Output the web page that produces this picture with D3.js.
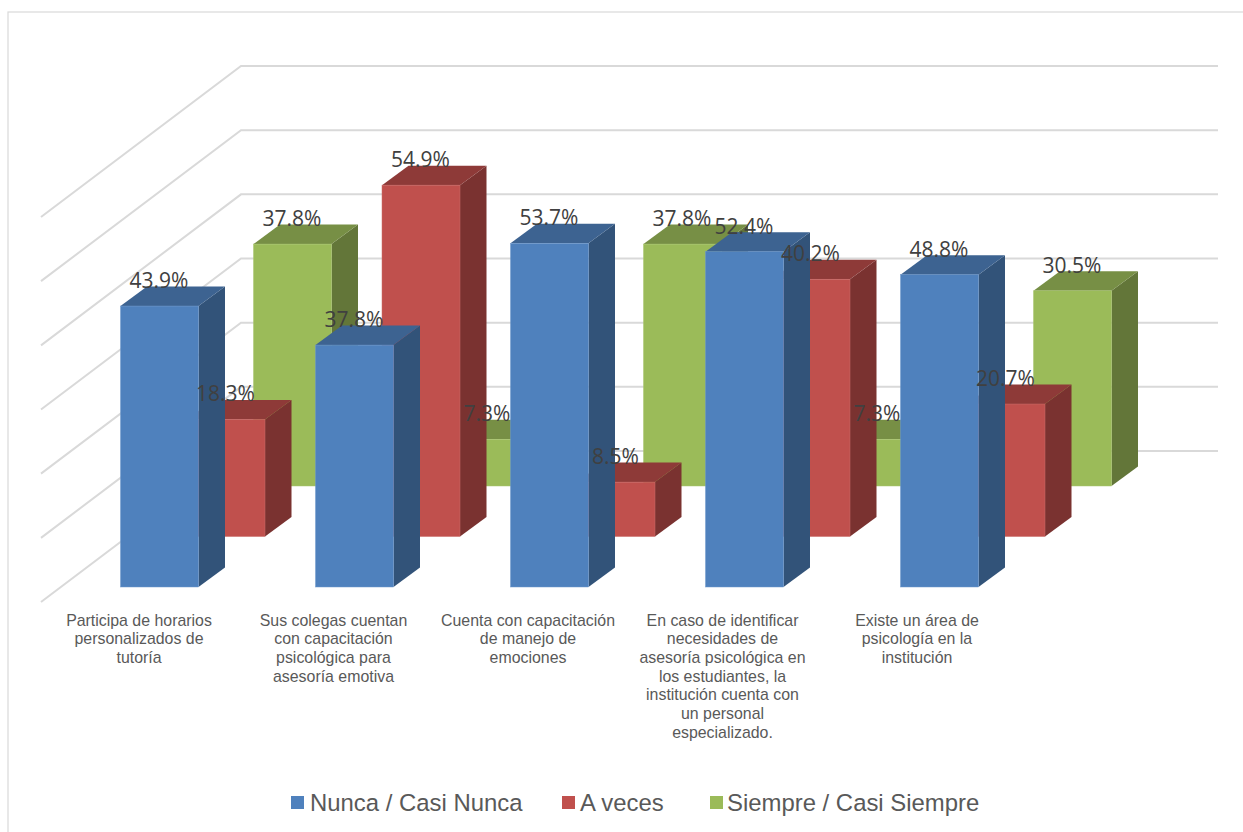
<!DOCTYPE html>
<html><head><meta charset="utf-8">
<script src="https://cdn.jsdelivr.net/npm/d3@7"></script>
<style>html,body{margin:0;padding:0;background:#fff;overflow:hidden}svg{display:block}</style>
</head><body><svg id="c" width="1243" height="832"></svg>
<script>
const categories = ["c1","c2","c3","c4","c5"];
const categoryLines = [
  ["Participa de horarios","personalizados de","tutoría"],
  ["Sus colegas cuentan","con capacitación","psicológica para","asesoría emotiva"],
  ["Cuenta con capacitación","de manejo de","emociones"],
  ["En caso de identificar","necesidades de","asesoría psicológica en","los estudiantes, la","institución cuenta con","un personal","especializado."],
  ["Existe un área de","psicología en la","institución"]
];
const seriesNames = ["Nunca / Casi Nunca","A veces","Siempre / Casi Siempre"];
const nunca = [43.9,37.8,53.7,52.4,48.8];
const aVeces = [18.3,54.9,8.5,40.2,20.7];
const siempre = [37.8,7.3,37.8,7.3,30.5];
const gridValues = [0,10,20,30,40,50,60];
const front = ["#4f81bd","#c0504d","#9bbb59"];
const topFace = ["#3d6391","#8e3a38","#778f45"];
const sideFace = ["#325379","#7a3230","#637639"];
const edge = ["#6f98cc","#c96c69","#aac670"];

const svg = d3.select("#c");
svg.append("rect").attr("x",8).attr("y",12).attr("width",1300).attr("height",900)
  .attr("fill","#fff").attr("stroke","#d9d9d9").attr("stroke-width",1.2);

const h = d3.scaleLinear().domain([0,60]).range([0,384]);
const xCat = d3.scalePoint().domain(categories).range([120.5,900.5]);
const serX = d3.scalePoint().domain([0,1,2]).range([0,133]);
const serBase = d3.scalePoint().domain([0,1,2]).range([587,486]);
const barW = 78, dX = 26.5, dY = 19.5;
const gridY = v => 451 - 385/60*v;

const gridG = svg.append("g");
gridValues.forEach(v=>{
  gridG.append("path")
    .attr("d",d3.line()([[41,gridY(v)+151],[241,gridY(v)],[1218,gridY(v)]]))
    .attr("fill","none").attr("stroke","#d9d9d9").attr("stroke-width",2);
});

const allSeries = [nunca,aVeces,siempre];
const poly = a => d3.line().curve(d3.curveLinearClosed)(a);
const labels = [];
[2,1,0].forEach(s=>{
  const g = svg.append("g");
  categories.forEach((c,i)=>{
    const x0 = xCat(c)+serX(s), x1 = x0+barW, yb = serBase(s), yt = yb-h(allSeries[s][i]);
    g.append("path").attr("d",poly([[x1,yt],[x1+dX,yt-dY],[x1+dX,yb-dY],[x1,yb]])).attr("fill",sideFace[s]);
    g.append("path").attr("d",poly([[x0,yt],[x0+dX,yt-dY],[x1+dX,yt-dY],[x1,yt]])).attr("fill",topFace[s]);
    g.append("rect").attr("x",x0).attr("y",yt).attr("width",barW).attr("height",yb-yt)
      .attr("fill",front[s]).attr("stroke",edge[s]).attr("stroke-width",0.5);
    labels.push({x:x0+barW/2-0.5,y:yt-18,t:allSeries[s][i].toFixed(1)+"%"});
  });
});
svg.append("g").selectAll("text").data(labels).join("text")
  .attr("x",d=>d.x).attr("y",d=>d.y).attr("text-anchor","middle")
  .attr("font-family","'Open Sans','Noto Sans',sans-serif").attr("font-size",21)
  .attr("fill","#404040").text(d=>d.t);

const labelCx = d3.scalePoint().domain(categories).range([139,917]);
categories.forEach((c,i)=>{
  const t = svg.append("text").attr("text-anchor","middle")
    .attr("font-family","'Liberation Sans',Arial,sans-serif").attr("font-size",15.9).attr("fill","#595959");
  categoryLines[i].forEach((l,j)=>t.append("tspan").attr("x",labelCx(c)).attr("y",625.5+j*18.7).text(l));
});

const legX = [291,562,710], legT = [310,580,727];
seriesNames.forEach((n,i)=>{
  svg.append("rect").attr("x",legX[i]).attr("y",796).attr("width",13).attr("height",13).attr("fill",front[i]);
  svg.append("text").attr("x",legT[i]).attr("y",810.5).attr("font-family","'Liberation Sans',Arial,sans-serif")
    .attr("font-size",23.9).attr("fill","#595959").text(n);
});
</script></body></html>
